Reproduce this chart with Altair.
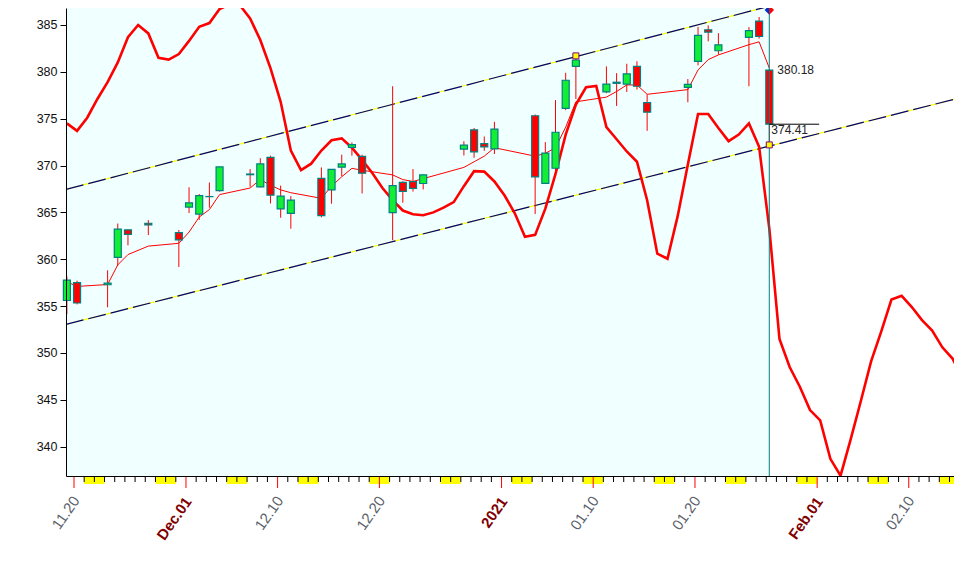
import altair as alt
import pandas as pd

# ---------------- data ----------------
dates = ["2020-11-19", "2020-11-20", "2020-11-23", "2020-11-24", "2020-11-25", "2020-11-27", "2020-11-30",
         "2020-12-01", "2020-12-02", "2020-12-03", "2020-12-04", "2020-12-07", "2020-12-08", "2020-12-09",
         "2020-12-10", "2020-12-11", "2020-12-14", "2020-12-15", "2020-12-16", "2020-12-17", "2020-12-18",
         "2020-12-21", "2020-12-22", "2020-12-23", "2020-12-24", "2020-12-28", "2020-12-29", "2020-12-30",
         "2020-12-31", "2021-01-04", "2021-01-05", "2021-01-06", "2021-01-07", "2021-01-08", "2021-01-11",
         "2021-01-12", "2021-01-13", "2021-01-14", "2021-01-15", "2021-01-19", "2021-01-20", "2021-01-21",
         "2021-01-22", "2021-01-25", "2021-01-26", "2021-01-27"]
opens = [355.60, 357.50, 357.28, 360.21, 363.13, 363.84, 362.83, 365.57, 364.82, 366.68, 367.32, 369.02,
         367.72, 370.88, 365.37, 364.90, 368.64, 367.40, 369.82, 371.94, 370.97, 364.97, 368.21, 368.28,
         368.08, 371.74, 373.81, 372.34, 371.78, 375.31, 368.10, 369.71, 376.10, 380.59, 377.85, 378.89,
         378.69, 380.59, 376.72, 378.34, 381.11, 384.49, 382.25, 383.67, 385.41, 380.18]
highs = [358.18, 357.72, 358.82, 363.81, 363.16, 364.18, 363.12, 367.68, 366.96, 368.19, 369.85, 369.62,
         370.78, 371.05, 367.86, 366.74, 369.80, 369.59, 371.16, 372.46, 371.15, 378.46, 368.33, 369.62,
         369.03, 372.59, 374.00, 373.10, 374.66, 375.45, 372.50, 376.98, 379.90, 381.49, 380.58, 379.86,
         380.86, 381.13, 377.58, 379.23, 384.79, 384.95, 384.13, 384.77, 385.85, 380.32]
lows = [354.15, 355.18, 354.87, 359.29, 361.48, 362.58, 359.17, 364.93, 364.20, 365.50, 367.22, 367.72,
        367.67, 365.95, 364.43, 363.26, 364.47, 365.92, 368.87, 371.05, 367.02, 362.03, 366.03, 367.22,
        367.45, 371.07, 370.83, 371.57, 371.23, 364.82, 368.05, 369.12, 375.91, 377.10, 377.72, 376.36,
        377.85, 378.10, 373.70, 376.75, 380.69, 383.25, 381.84, 378.46, 383.54, 372.01]
closes = [357.78, 355.33, 357.46, 363.22, 362.66, 363.67, 362.06, 366.02, 366.79, 366.69, 369.85, 369.09,
          370.17, 366.85, 366.73, 366.30, 364.66, 369.59, 370.17, 372.24, 369.18, 367.86, 367.24, 367.57,
          369.00, 372.17, 371.46, 371.99, 373.88, 368.79, 371.33, 373.55, 379.10, 381.26, 378.69, 378.77,
          379.79, 378.46, 375.70, 378.65, 383.89, 384.24, 382.88, 384.39, 383.79, 374.41]
ma_vals = [357.6, 357.1, 357.3, 359.4, 360.5, 361.4, 361.7, 362.9, 364.5, 365.3, 366.9, 367.6, 368.5, 367.9,
           367.4, 367.1, 366.5, 367.8, 368.8, 369.7, 369.5, 369.0, 368.5, 368.3, 368.6, 369.8, 370.4, 371.0,
           371.9, 371.0, 371.3, 371.9, 374.1, 376.8, 377.3, 377.9, 378.6, 378.6, 377.6, 378.1, 380.2, 381.3,
           381.8, 382.9, 383.2, 380.4]

# thick red curve, one value per calendar day starting 2020-11-19
curve_start = "2020-11-19"
curve_vals = [374.5, 373.7, 375.1, 377.1, 378.9, 381.0, 383.7, 385.0, 384.1, 381.5, 381.3, 381.9, 383.3,
              384.8, 385.2, 386.7, 387.2, 387.1, 385.7, 383.4, 380.4, 376.8, 371.6, 369.5, 370.2, 371.6,
              372.7, 372.9, 371.9, 370.6, 369.2, 367.6, 366.3, 365.2, 364.8, 364.7, 365.0, 365.5, 366.1,
              367.8, 369.4, 369.35, 368.3, 366.8, 364.9, 362.4, 362.6, 365.4, 369.1, 373.3, 376.5, 378.35,
              378.5, 374.1, 372.8, 371.5, 370.4, 366.3, 360.6, 360.05, 364.6, 370.1, 375.5, 375.5, 374.0,
              372.6, 373.3, 374.5, 372.0, 363.3, 351.5, 348.5, 346.4, 343.9, 342.8, 338.7, 336.9, 340.8,
              344.9, 349.1, 352.3, 355.7, 356.1, 354.9, 353.5, 352.4, 350.6, 349.4, 347.3]

# channel lines (day offset from 2020-11-20, value)
upper_u = [-0.786, 69.35]
upper_v = [367.45, 387.3]
lower_u = [-0.786, 87.23]
lower_v = [353.05, 377.28]

# marker squares on the channel
marker_dates = ["2021-01-08", "2021-01-27"]
marker_vals = [381.7, 372.2]
diamond_val = 386.6

# x tick labels
tick_labels = ["11.20", "Dec.01", "12.10", "12.20", "2021", "01.10", "01.20", "Feb.01", "02.10"]
tick_dates = ["2020-11-20", "2020-12-01", "2020-12-10", "2020-12-20", "2021-01-01", "2021-01-10",
              "2021-01-20", "2021-02-01", "2021-02-10"]
month_start_labels = ["Dec.01", "2021", "Feb.01"]
y_ticks = [340, 345, 350, 355, 360, 365, 370, 375, 380, 385]

# ---------------- preparation ----------------
BASE = pd.Timestamp("2020-11-20")
OFF = 0.3
PX_PER_DAY = 10.18
W, H = 888, 468
XMIN = -0.786
XMAX = XMIN + W / PX_PER_DAY
YMIN, YMAX = 336.87, 386.81


def day(s):
    return (pd.Timestamp(s) - BASE).days


df = pd.DataFrame({"date": dates, "open": opens, "high": highs, "low": lows, "close": closes, "ma": ma_vals})
df["u"] = [day(d) + OFF for d in dates]
u_last = df["u"].iloc[-1]

curve = pd.DataFrame({"v": curve_vals})
curve["u"] = [day(curve_start) + i + OFF for i in range(len(curve_vals))]

chan = pd.DataFrame({
    "line": ["upper"] * 2 + ["lower"] * 2,
    "u": upper_u + lower_u,
    "v": upper_v + lower_v,
})

sats = pd.date_range("2020-11-21", "2021-02-13", freq="7D")
wk = pd.DataFrame({"u0": [(s - BASE).days for s in sats]})
wk["u1"] = wk["u0"] + 2

markers = pd.DataFrame({"u": [day(d) + OFF for d in marker_dates], "v": marker_vals})

tick_u = [day(d) for d in tick_dates]
labs = pd.DataFrame({"u": tick_u, "label": tick_labels})
labs["month"] = labs["label"].isin(month_start_labels)

days_df = pd.DataFrame({"u": list(range(0, 87))})
days_df["major"] = days_df["u"].isin(tick_u)

xs = alt.Scale(domain=[XMIN, XMAX], nice=False, zero=False, padding=0)
ys = alt.Scale(domain=[YMIN, YMAX], nice=False, zero=False, padding=0)

# the same axis objects are given to every layer so that they merge without conflict
x_axis = alt.Axis(ticks=False, labels=False, domainColor="#000000", domainWidth=1, grid=False,
                  title=None, zindex=1)
y_axis = alt.Axis(
    values=y_ticks, tickSize=6, tickColor="#000000", labelPadding=3,
    labelFont="Liberation Sans", labelFontSize=12.5, labelColor="#111111", domainColor="#000000",
    grid=False, title=None, zindex=1,
)

GREEN = "#11EE33"
RED = "#FF0000"
TEAL = "#008080"


def X(field):
    return alt.X(field, type="quantitative", scale=xs, axis=x_axis)


def Y(field):
    return alt.Y(field, type="quantitative", scale=ys, axis=y_axis)


bg = alt.Chart(pd.DataFrame({"x0": [XMIN], "x1": [u_last]})).mark_rect(color="#F0FFFF").encode(
    x=X("x0"), x2="x1:Q", y=alt.value(0), y2=alt.value(H),
)

weekends = alt.Chart(wk).mark_rect(color="#FFFF00").encode(
    x=X("u0"), x2="u1:Q", y=alt.value(H + 1), y2=alt.value(H + 8),
)

minor_ticks = alt.Chart(days_df).transform_filter("!datum.major").mark_rule(
    color="#000000", strokeWidth=1).encode(x=X("u"), y=alt.value(H), y2=alt.value(H + 6))
major_ticks = alt.Chart(days_df).transform_filter("datum.major").mark_rule(
    color=RED, strokeWidth=1).encode(x=X("u"), y=alt.value(H), y2=alt.value(H + 12))

lab_normal = alt.Chart(labs).transform_filter("!datum.month").mark_text(
    angle=305, align="right", baseline="middle", dx=4, font="Liberation Sans", fontSize=15,
    color="#5a5f6a").encode(x=X("u"), y=alt.value(H + 25), text="label:N")
lab_month = alt.Chart(labs).transform_filter("datum.month").mark_text(
    angle=305, align="right", baseline="middle", dx=4, font="Liberation Sans", fontSize=15,
    fontWeight="bold", color="#800000").encode(x=X("u"), y=alt.value(H + 26), text="label:N")

chan_base = alt.Chart(chan).encode(x=X("u"), y=Y("v"), detail="line:N")
chan_yellow = chan_base.mark_line(color="#FFFF00", strokeWidth=1.2, clip=True)
chan_navy = chan_base.mark_line(color="#000080", strokeWidth=1.2, strokeDash=[18, 5], clip=True)

thick = alt.Chart(curve).mark_line(color=RED, strokeWidth=2.6, clip=True).encode(x=X("u"), y=Y("v"))

ma = alt.Chart(df).mark_line(color=RED, strokeWidth=1).encode(x=X("u"), y=Y("ma"))

wicks = alt.Chart(df).mark_rule(color=RED, strokeWidth=1).encode(x=X("u"), y=Y("low"), y2="high:Q")

bodies = alt.Chart(df).mark_bar(size=7, stroke=TEAL, strokeWidth=1.2).encode(
    x=X("u"), y=Y("open"), y2="close:Q",
    color=alt.condition("datum.close >= datum.open", alt.value(GREEN), alt.value(RED)),
)

last = df.iloc[[-1]].copy()
last["u_end"] = last["u"] + 4.9

vline = alt.Chart(last).mark_rule(color=TEAL, strokeWidth=1).encode(
    x=X("u"), y=alt.value(0), y2=alt.value(H)
)

close_rule = alt.Chart(last).mark_rule(color="#000000", strokeWidth=1).encode(
    x=X("u"), x2="u_end:Q", y=Y("close")
)

squares = alt.Chart(markers).mark_point(
    shape="square", size=36, filled=True, fill="#FFFF00", stroke="#800080", strokeWidth=1, opacity=1
).encode(x=X("u"), y=Y("v"))

dia = pd.DataFrame({"u": [u_last], "v": [diamond_val]})
dia_left = alt.Chart(dia).mark_point(
    shape="M0,-1L-1,0L0,1Z", size=90, filled=True, color="#0033CC", opacity=1
).encode(x=X("u"), y=Y("v"))
dia_right = alt.Chart(dia).mark_point(
    shape="M0,-1L1,0L0,1Z", size=90, filled=True, color=RED, opacity=1
).encode(x=X("u"), y=Y("v"))

open_txt = alt.Chart(last).mark_text(
    align="left", baseline="middle", dx=8, font="Liberation Sans", fontSize=12, color="#222222"
).encode(x=X("u"), y=Y("open"), text=alt.Text("open:Q", format=".2f"))
close_txt = alt.Chart(last).mark_text(
    align="left", baseline="middle", dx=2, dy=6, font="Liberation Sans", fontSize=12, color="#222222"
).encode(x=X("u"), y=Y("close"), text=alt.Text("close:Q", format=".2f"))

chart = alt.layer(
    bg, weekends, minor_ticks, major_ticks, lab_normal, lab_month,
    chan_yellow, chan_navy, thick, ma, wicks, bodies, vline, close_rule,
    squares, dia_left, dia_right, open_txt, close_txt,
).properties(
    width=W, height=H,
    padding={"left": 58, "top": 0, "right": 0, "bottom": 74},
    autosize=alt.AutoSizeParams(type="none"),
).configure(background="white").configure_view(strokeWidth=0)

chart.save("out.html", embed_options={"renderer": "svg", "actions": False})
